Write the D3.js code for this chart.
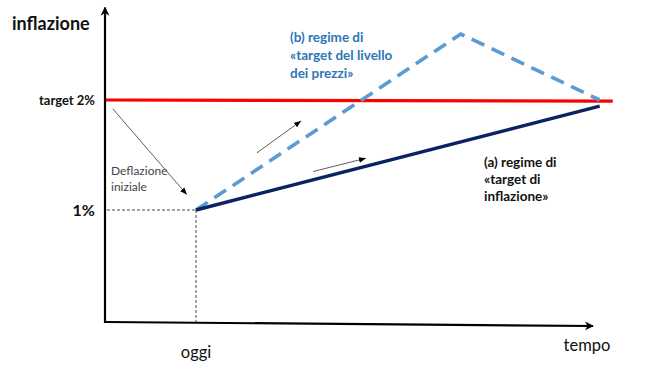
<!DOCTYPE html>
<html><head><meta charset="utf-8">
<script src="https://cdn.jsdelivr.net/npm/d3@7"></script>
<style>html,body{margin:0;padding:0;background:#fff;}svg{display:block;font-family:Lato,"Open Sans",sans-serif;}</style>
</head><body><svg id="c" width="660" height="374"></svg>
<script>
// time units (0 = origin), inflation in %
const today = 1.86;
const targetLine = [[0.0, 2.0], [10.47, 1.99]];
const inflationTargeting = [[today, 1.0], [10.2, 1.945]];
const priceLevelTargeting = [[today, 1.0], [7.33, 2.6], [10.2, 2.0]];
const annotationArrows = [
  [[0.14, 1.92], [1.67, 1.14]],
  [[3.12, 1.52], [4.03, 1.81]],
  [[4.28, 1.35], [5.37, 1.47]]
];
const yTickLabels = [{v: 2, t: "target 2%"}, {v: 1, t: "1%"}];
const labelA = ["(a) regime di", "«target di", "inflazione»"];
const labelB = ["(b) regime di", "«target del livello", "dei prezzi»"];
const deflLabel = ["Deflazione", "iniziale"];

const svg = d3.select("#c");
const x = d3.scaleLinear().domain([0, 10]).range([106, 590]);
const y = d3.scaleLinear().domain([0, 2]).range([320, 100]);

const defs = svg.append("defs");
defs.append("marker").attr("id","ah").attr("viewBox","0 0 10 10").attr("refX",10).attr("refY",5)
  .attr("markerWidth",7).attr("markerHeight",7).attr("orient","auto").attr("markerUnits","userSpaceOnUse")
  .append("path").attr("d","M0,1 L10,5 L0,9 Z").attr("fill","#000");
defs.append("marker").attr("id","big").attr("viewBox","0 0 10 10").attr("refX",9).attr("refY",5)
  .attr("markerWidth",9).attr("markerHeight",10).attr("orient","auto").attr("markerUnits","userSpaceOnUse")
  .append("path").attr("d","M0,0 L10,5 L0,10 L3,5 Z").attr("fill","#000");

const line = d3.line().x(d => x(d[0])).y(d => y(d[1]));

// axes
svg.append("line").attr("x1", x(0)-1).attr("y1", 323).attr("x2", x(0)-1).attr("y2", y(2.84))
  .attr("stroke","#000").attr("stroke-width",2.2).attr("marker-end","url(#big)");
svg.append("line").attr("x1", x(0)).attr("y1", 322).attr("x2", 593).attr("y2", 326)
  .attr("stroke","#000").attr("stroke-width",2.2).attr("marker-end","url(#big)");

// guides to 1%
svg.append("path").attr("d", line([[0.02,1],[today,1]])).attr("stroke","#333").attr("stroke-width",0.9)
  .attr("stroke-dasharray","3,2").attr("fill","none");
svg.append("path").attr("d", line([[today,1],[today,-0.02]])).attr("stroke","#333").attr("stroke-width",0.9)
  .attr("stroke-dasharray","3,2").attr("fill","none");

// lines
svg.append("path").attr("d", line(targetLine)).attr("stroke","#ff0000").attr("stroke-width",3.2).attr("fill","none");
svg.append("path").attr("d", line(priceLevelTargeting)).attr("stroke","#5b9bd5").attr("stroke-width",3.6)
  .attr("stroke-dasharray","14,8").attr("fill","none");
svg.append("path").attr("d", line(inflationTargeting)).attr("stroke","#0c2361").attr("stroke-width",3.4).attr("fill","none");

// annotation arrows
annotationArrows.forEach(a => {
  svg.append("path").attr("d", line(a)).attr("stroke","#333").attr("stroke-width",0.8).attr("fill","none")
    .attr("marker-end","url(#ah)");
});

// text
svg.append("text").attr("x",12).attr("y",30).attr("font-size",18).attr("font-weight","bold").attr("fill","#111").text("inflazione");
yTickLabels.forEach((d,i) => {
  svg.append("text").attr("x", 95).attr("y", y(d.v)).attr("dy","0.35em").attr("text-anchor","end")
    .attr("font-weight","bold").attr("font-size", i===0 ? 13 : 16).attr("fill","#111").text(d.t);
});
deflLabel.forEach((t,i) => svg.append("text").attr("x",111).attr("y",171+i*16).attr("dy","0.35em")
  .attr("font-size",12).attr("fill","#444").text(t));
labelB.forEach((t,i) => svg.append("text").attr("x",290).attr("y",37+i*18.3).attr("dy","0.35em")
  .attr("font-size",13.5).attr("font-weight","bold").attr("fill","#2e75b6").text(t));
labelA.forEach((t,i) => svg.append("text").attr("x",484).attr("y",162+i*17.2).attr("dy","0.35em")
  .attr("font-size",13.5).attr("font-weight","bold").attr("fill","#111").text(t));
svg.append("text").attr("x", x(today)).attr("y",352).attr("dy","0.35em").attr("text-anchor","middle")
  .attr("font-size",16.5).attr("fill","#111").text("oggi");
svg.append("text").attr("x",587).attr("y",345).attr("dy","0.35em").attr("text-anchor","middle")
  .attr("font-size",16.5).attr("fill","#111").text("tempo");
</script></body></html>
